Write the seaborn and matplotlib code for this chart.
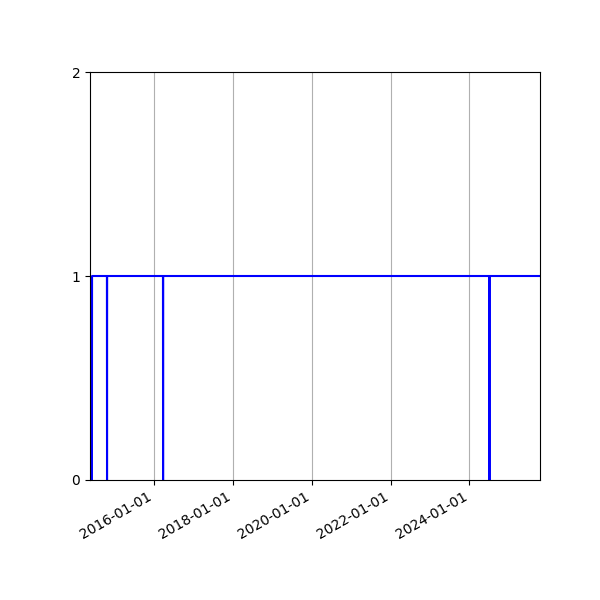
import matplotlib
matplotlib.use("Agg")
import matplotlib.pyplot as plt
import matplotlib.dates as mdates
import seaborn as sns
import pandas as pd

dates = ["2014-06-01", "2014-06-02",
         "2014-10-18", "2014-10-19", "2014-10-20",
         "2016-03-21", "2016-03-22", "2016-03-23",
         "2024-07-05", "2024-07-06", "2024-07-07",
         "2025-10-18"]
values = [0, 1,
          1, 0, 1,
          1, 0, 1,
          1, 0, 1,
          1]
x_range = ["2014-05-14", "2025-10-18"]
y_ticks = [0, 1, 2]

df = pd.DataFrame({"date": pd.to_datetime(dates), "value": values})

fig, ax = plt.subplots(figsize=(6, 6), dpi=100)
sns.lineplot(data=df, x="date", y="value", color="blue", linewidth=1.5, ax=ax,
             estimator=None, sort=False)
ax.set_xlim(pd.to_datetime(x_range[0]), pd.to_datetime(x_range[1]))
ax.set_ylim(0, 2)
ax.set_yticks(y_ticks)
ax.xaxis.set_major_locator(mdates.YearLocator(2))
ax.xaxis.set_major_formatter(mdates.DateFormatter("%Y-%m-%d"))
ax.grid(axis="x")
ax.set_xlabel("")
ax.set_ylabel("")
fig.autofmt_xdate()
fig.subplots_adjust(left=0.15, right=0.9, top=0.88, bottom=0.2)
fig.savefig("out.png", dpi=100)
